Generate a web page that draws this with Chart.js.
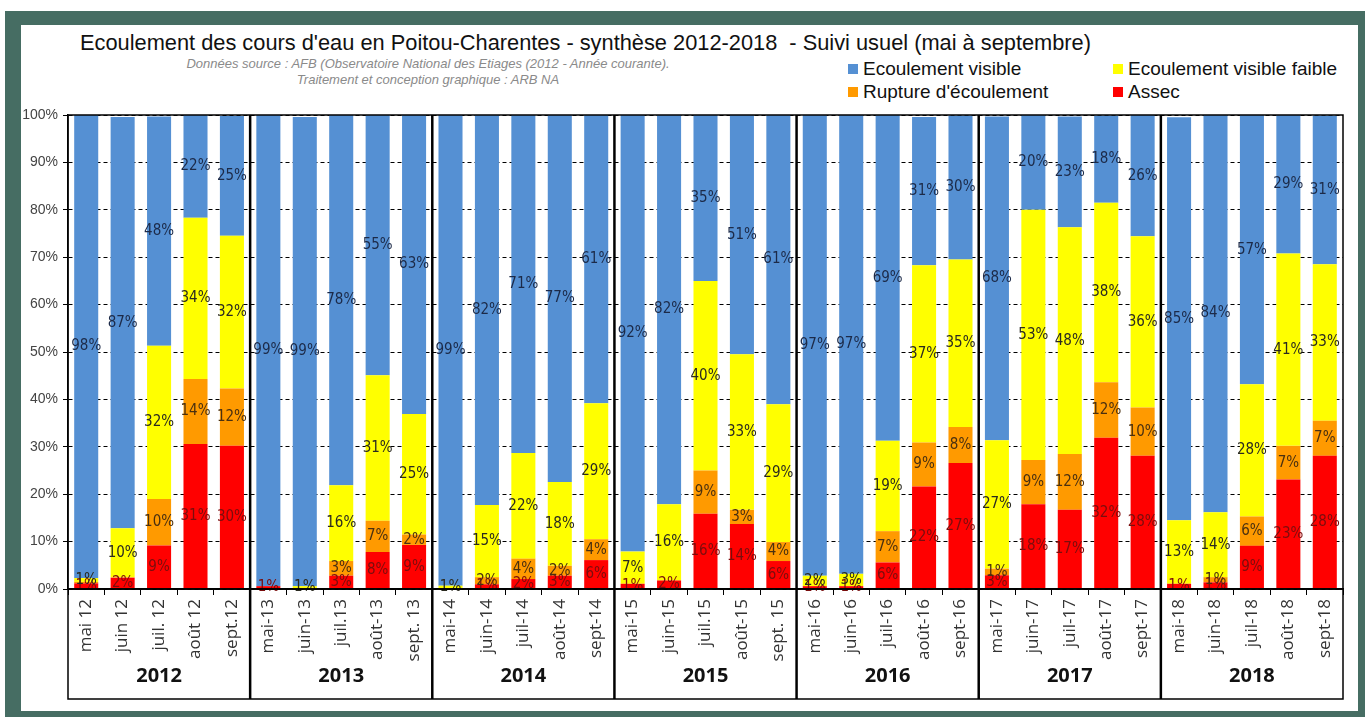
<!DOCTYPE html>
<html lang="fr">
<head>
<meta charset="utf-8">
<title>Ecoulement des cours d'eau en Poitou-Charentes</title>
<script src="https://cdn.jsdelivr.net/npm/chart.js@4.4.1/dist/chart.umd.min.js"></script>
<style>
  html, body { margin: 0; padding: 0; background: #fff; width: 1365px; height: 717px; overflow: hidden; font-family: 'Liberation Sans', 'Noto Sans', sans-serif; }
  #frame { position: absolute; left: 5px; top: 11px; width: 1360px; height: 706px; background: #466d63; }
  #inner { position: absolute; left: 21px; top: 25px; width: 1337px; height: 686px; background: #fff; }
  #title { position: absolute; left: 80px; top: 30px; font-size: 21.8px; color: #111; white-space: nowrap; }
  .source { position: absolute; width: 700px; left: 78px; text-align: center; font-size: 13px; font-style: italic; color: #8a8a8a; white-space: nowrap; }
  #legend { position: absolute; left: 848px; top: 58px; width: 510px; }
  .leg { position: absolute; font-size: 19px; color: #111; white-space: nowrap; line-height: 22px; }
  .leg span { display: inline-block; width: 10px; height: 10px; margin-right: 5px; vertical-align: 1px; }
  #wrap { position: absolute; left: 21px; top: 100px; width: 1337px; height: 611px; }
</style>
</head>
<body>
<div id="frame"></div>
<div id="inner"></div>
<div id="title">Ecoulement des cours d'eau en Poitou-Charentes - synthèse 2012-2018 &nbsp;- Suivi usuel (mai à septembre)</div>
<div class="source" style="top:56px">Données source : AFB (Observatoire National des Etiages (2012 - Année courante).</div>
<div class="source" style="top:72px">Traitement et conception graphique : ARB NA</div>
<div id="legend"></div>
<div id="wrap"><canvas id="chart"></canvas></div>
<script>
// --- DATA ---
const months = [
  'mai 12', 'juin 12', 'juil. 12', 'août 12', 'sept.12',
  'mai-13', 'juin-13', 'juil.13', 'août-13', 'sept. 13',
  'mai-14', 'juin-14', 'juil-14', 'août-14', 'sept-14',
  'mai-15', 'juin-15', 'juil.15', 'août-15', 'sept. 15',
  'mai-16', 'juin-16', 'juil-16', 'août-16', 'sept-16',
  'mai-17', 'juin-17', 'juil-17', 'août-17', 'sept-17',
  'mai-18', 'juin-18', 'juil-18', 'août-18', 'sept-18'
];
const years = ['2012', '2013', '2014', '2015', '2016', '2017', '2018'];
const yTicks = [0, 10, 20, 30, 40, 50, 60, 70, 80, 90, 100];

const assec = [1.2, 2.4, 9.2, 30.6, 30.2, 0.6, 0, 2.8, 7.8, 9.3, 0, 1.0, 2.1, 2.8, 6.1, 1.1, 1.8, 15.9, 13.7, 5.9, 0.6, 0.6, 5.6, 21.6, 26.6, 2.9, 17.9, 16.7, 31.9, 28.1, 1.1, 1.4, 9.1, 23.1, 28.1];
const rupture = [0.3, 0, 9.8, 13.7, 12.1, 0, 0, 3.1, 6.6, 2.2, 0, 1.5, 4.3, 2.1, 4.4, 0, 0, 9.1, 3.0, 4.0, 0, 0, 6.6, 9.3, 7.6, 1.4, 9.3, 11.8, 11.7, 10.2, 0, 1.1, 6.2, 7.1, 7.4];
const faible = [0.8, 10.4, 32.3, 34.0, 32.2, 0, 0.6, 16.0, 30.7, 25.4, 0.7, 15.2, 22.3, 17.7, 28.7, 6.8, 16.1, 40.0, 32.8, 29.1, 2.2, 2.6, 19.1, 37.4, 35.3, 27.1, 52.8, 47.8, 37.9, 36.1, 13.4, 13.7, 27.9, 40.6, 33.0];
const visible = [97.7, 86.8, 48.4, 21.7, 25.3, 99.4, 99.0, 78.1, 55.1, 63.1, 99.3, 82.3, 71.3, 77.4, 60.8, 92.1, 82.1, 35.0, 50.5, 61.0, 97.2, 96.8, 68.7, 31.3, 30.4, 68.3, 20.0, 23.4, 18.4, 25.6, 85.0, 83.8, 56.8, 29.2, 31.4];

const series = [
  { label: 'Assec', data: assec, color: '#ff0000', text: '#7a0d0d' },
  { label: "Rupture d'écoulement", data: rupture, color: '#ff9a00', text: '#4a3010' },
  { label: 'Ecoulement visible faible', data: faible, color: '#ffff00', text: '#2a2a20' },
  { label: 'Ecoulement visible', data: visible, color: '#5590d3', text: '#1c2a48' }
];

// --- HTML LEGEND (2 columns, like the original) ---
const legendEl = document.getElementById('legend');
const legendPos = {
  'Ecoulement visible': [0, 0],
  'Ecoulement visible faible': [265, 0],
  "Rupture d'écoulement": [0, 23],
  'Assec': [265, 23]
};
series.forEach(s => {
  const item = document.createElement('div');
  item.className = 'leg';
  item.style.left = legendPos[s.label][0] + 'px';
  item.style.top = legendPos[s.label][1] + 'px';
  item.innerHTML = `<span style="background:${s.color}"></span>${s.label}`;
  legendEl.appendChild(item);
});

const labelFont = "15px 'DejaVu Sans Condensed', 'DejaVu Sans', sans-serif";

// percentage labels in the middle of each segment
const segmentLabels = {
  id: 'segmentLabels',
  afterDatasetsDraw(chart) {
    const ctx = chart.ctx;
    ctx.save();
    ctx.font = labelFont;
    ctx.textAlign = 'center';
    ctx.textBaseline = 'middle';
    chart.data.datasets.forEach((ds, di) => {
      const meta = chart.getDatasetMeta(di);
      meta.data.forEach((bar, i) => {
        const v = Math.round(ds.data[i]);
        if (v < 1) return;
        ctx.fillStyle = series[di].text;
        ctx.fillText(v + '%', bar.x, (bar.y + bar.base) / 2);
      });
    });
    ctx.restore();
  }
};

// plot frame, year separators and year labels
const yearBoxes = {
  id: 'yearBoxes',
  afterDraw(chart) {
    const ctx = chart.ctx;
    const area = chart.chartArea;
    const x = chart.scales.x;
    const bottom = x.bottom - 2;
    const step = x.getPixelForValue(1) - x.getPixelForValue(0);
    ctx.save();
    ctx.strokeStyle = '#000';
    ctx.lineWidth = 1.5;
    ctx.strokeRect(area.left, area.top, area.right - area.left, area.bottom - area.top);
    ctx.strokeRect(area.left, area.bottom, area.right - area.left, bottom - area.bottom);
    ctx.lineWidth = 2.5;
    for (let g = 1; g < years.length; g++) {
      const px = x.getPixelForValue(g * 5) - step / 2;
      ctx.beginPath();
      ctx.moveTo(px, area.top);
      ctx.lineTo(px, bottom);
      ctx.stroke();
    }
    ctx.fillStyle = '#111';
    ctx.font = "bold 20px 'Open Sans', 'Liberation Sans', sans-serif";
    ctx.textAlign = 'center';
    ctx.textBaseline = 'middle';
    years.forEach((yr, g) => {
      const cx = (x.getPixelForValue(g * 5) + x.getPixelForValue(g * 5 + 4)) / 2;
      ctx.fillText(yr, cx, area.bottom + 87);
    });
    ctx.restore();
  }
};

new Chart(document.getElementById('chart'), {
  type: 'bar',
  data: {
    labels: months,
    datasets: series.map(s => ({
      label: s.label,
      data: s.data,
      backgroundColor: s.color,
      borderWidth: 0,
      barPercentage: 0.66,
      categoryPercentage: 1
    }))
  },
  options: {
    responsive: true,
    maintainAspectRatio: false,
    animation: false,
    layout: { padding: { top: 15, right: 15, bottom: 10, left: 0 } },
    plugins: { legend: { display: false }, tooltip: { enabled: false } },
    scales: {
      x: {
        stacked: true,
        afterFit: scale => { scale.height = 112; },
        grid: { display: true, offset: true, drawOnChartArea: false, drawTicks: true, tickLength: 6, color: '#000' },
        border: { display: true, color: '#000', width: 1.5 },
        ticks: {
          minRotation: 90, maxRotation: 90, autoSkip: false, padding: 4,
          color: '#333',
          font: { family: "'Open Sans', 'Liberation Sans', sans-serif", size: 17 }
        }
      },
      y: {
        stacked: true,
        min: 0, max: 100,
        afterFit: scale => { scale.width = 47; },
        afterBuildTicks: scale => { scale.ticks = yTicks.map(v => ({ value: v })); },
        grid: { color: '#000', lineWidth: 1, tickLength: 5, tickBorderDash: [], borderDash: [4, 3] },
        border: { display: true, color: '#000', width: 1.5, dash: [4, 3] },
        ticks: {
          color: '#444', padding: 5,
          font: { family: "'Liberation Sans', 'Noto Sans', sans-serif", size: 14 },
          callback: v => v + '%'
        }
      }
    }
  },
  plugins: [segmentLabels, yearBoxes]
});
</script>
</body>
</html>
